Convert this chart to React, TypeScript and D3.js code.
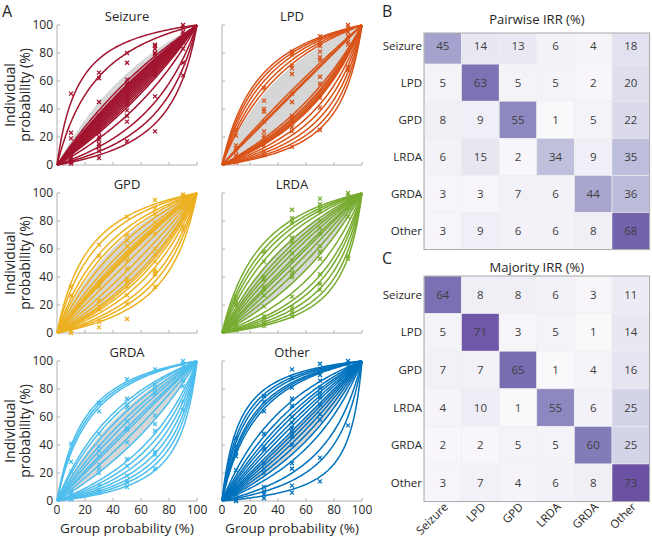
import React from "react";
import * as d3 from "d3";

// ---------- data ----------
const groupX = [10, 30, 50, 70, 90];
const panelNames = ["Seizure", "LPD", "GPD", "LRDA", "GRDA", "Other"];
const panelColors = ["#A2142F", "#D95319", "#EDB120", "#77AC30", "#4DBEEE", "#0072BD"];

// per-rater odds ratios of the fitted calibration curves
const seizureCurves = [7.3, 4.0, 1.5, 1.35, 1.3, 1.25, 1.2, 1.15, 1.1, 1.05, 1.0, 0.95, 0.9, 0.85, 0.8, 0.75, 0.7, 0.55, 0.35, 0.25, 0.18];
const lpdCurves = [4.5, 4.0, 3.5, 3.0, 2.6, 1.15, 1.05, 1.0, 0.55, 0.5, 0.47, 0.44, 0.42, 0.4, 0.33, 0.27, 0.22, 0.18, 0.15];
const gpdCurves = [5.0, 4.0, 3.0, 2.5, 2.0, 1.6, 1.4, 1.3, 1.25, 1.2, 1.0, 0.8, 0.65, 0.55, 0.5, 0.45, 0.38, 0.3, 0.25, 0.2];
const lrdaCurves = [4.2, 3.5, 3.0, 2.5, 2.0, 1.7, 1.5, 1.3, 1.1, 1.0, 0.85, 0.7, 0.55, 0.4, 0.3, 0.25, 0.2, 0.16, 0.13];
const grdaCurves = [5.8, 5.2, 4.7, 2.5, 2.2, 1.8, 1.5, 1.3, 1.1, 1.0, 0.8, 0.6, 0.4, 0.33, 0.27, 0.22, 0.18, 0.15, 0.12];
const otherCurves = [9, 7.5, 6.5, 5.5, 5, 4.5, 2.5, 2, 1.7, 1.5, 1.3, 1.15, 1.0, 0.9, 0.8, 0.7, 0.6, 0.5, 0.4, 0.25, 0.17, 0.09];

// gray band (odds-ratio range)
const seizureBand = [0.9, 1.9];
const lpdBand = [0.42, 2.4];
const gpdBand = [0.5, 2.3];
const lrdaBand = [0.55, 2.1];
const grdaBand = [0.6, 2.0];
const otherBand = [0.5, 1.0];

// individual probabilities (%) at each group probability in groupX
const seizureMarks = [
  [51, 23, 19, 12, 10, 8, 6, 5, 3, 2, 1],
  [66, 62, 45, 35, 32, 30, 27, 25, 23, 20, 18, 15, 13, 10, 5],
  [80, 73, 61, 58, 55, 52, 50, 48, 45, 43, 39, 35, 31, 17],
  [86, 85, 83, 80, 79, 76, 74, 71, 69, 67, 64, 49, 24],
  [100, 98, 95, 93, 90, 88, 83, 73, 64],
];
const lpdMarks = [
  [25, 21, 14, 12, 10, 7, 5, 2],
  [55, 46, 40, 38, 31, 24, 21, 19, 17, 14, 10, 7],
  [81, 79, 71, 69, 65, 51, 45, 35, 32, 27, 24, 13],
  [92, 89, 87, 85, 81, 77, 75, 63, 58, 50, 48, 41, 25],
  [100, 98, 95, 92, 88, 86, 70, 68],
];
const gpdMarks = [
  [33, 27, 5, 2, 0],
  [63, 55, 36, 33, 23, 19, 17, 8, 4],
  [83, 70, 66, 62, 57, 55, 52, 46, 39, 37, 33, 27, 21, 10],
  [95, 89, 85, 79, 76, 71, 60, 56, 51, 45, 43, 42, 33],
  [99, 98, 95, 93, 89, 85, 76, 74],
];
const lrdaMarks = [
  [26, 23, 20, 10, 7, 5, 2],
  [58, 51, 40, 38, 33, 31, 27, 19, 12, 10, 7, 5],
  [88, 82, 79, 68, 65, 57, 52, 46, 43, 40, 26, 18, 15, 12],
  [96, 92, 89, 87, 80, 75, 71, 62, 58, 53, 42, 35, 31],
  [100, 98, 95, 93, 89, 83, 55, 53],
];
const grdaMarks = [
  [41, 28, 21, 7, 5, 2, 1],
  [70, 64, 48, 39, 36, 32, 26, 23, 20, 11, 8, 6],
  [87, 73, 69, 67, 57, 52, 51, 42, 30, 25, 18, 14, 13, 10],
  [94, 83, 80, 77, 61, 55, 50, 35, 33, 23],
  [100, 98, 96, 93, 86, 82, 71, 65],
];
const otherMarks = [
  [45, 39, 35, 32, 22, 8, 5, 2, 1, 0],
  [75, 71, 64, 48, 39, 37, 27, 23, 20, 10, 7, 5, 2],
  [94, 88, 81, 73, 68, 60, 56, 52, 49, 46, 40, 27, 23, 11, 6],
  [98, 94, 90, 86, 81, 77, 74, 69, 62, 58, 31, 14],
  [100, 98, 96, 94, 54],
];

const panelCurves = [seizureCurves, lpdCurves, gpdCurves, lrdaCurves, grdaCurves, otherCurves];
const panelBands = [seizureBand, lpdBand, gpdBand, lrdaBand, grdaBand, otherBand];
const panelMarks = [seizureMarks, lpdMarks, gpdMarks, lrdaMarks, grdaMarks, otherMarks];

const probTicks = [0, 20, 40, 60, 80, 100];

const classLabels = ["Seizure", "LPD", "GPD", "LRDA", "GRDA", "Other"];
const pairwiseIRR = [
  [45, 14, 13, 6, 4, 18],
  [5, 63, 5, 5, 2, 20],
  [8, 9, 55, 1, 5, 22],
  [6, 15, 2, 34, 9, 35],
  [3, 3, 7, 6, 44, 36],
  [3, 9, 6, 6, 8, 68],
];
const majorityIRR = [
  [64, 8, 8, 6, 3, 11],
  [5, 71, 3, 5, 1, 14],
  [7, 7, 65, 1, 4, 16],
  [4, 10, 1, 55, 6, 25],
  [2, 2, 5, 5, 60, 25],
  [3, 7, 4, 6, 8, 73],
];

// ---------- layout ----------
const FONT = "'Open Sans', 'Noto Sans', sans-serif";
const W = 652;
const H = 538;
const colX = [57, 222];
const rowTop = [25, 193, 361];
const PW = 140;
const PH = 140;

const calib = (r: number) => (p: number) => (r * p) / (r * p + (1 - p));
const sampleP = d3.range(0, 1.0001, 0.01);

function Panel({ idx }: { idx: number }) {
  const c = idx % 2;
  const r = Math.floor(idx / 2);
  const x0 = colX[c];
  const y0 = rowTop[r];
  const xs = d3.scaleLinear().domain([0, 100]).range([x0, x0 + PW]);
  const ys = d3.scaleLinear().domain([0, 100]).range([y0 + PH, y0]);
  const color = panelColors[idx];
  const curve = (rr: number) =>
    d3
      .line<number>()
      .x((p) => xs(p * 100))
      .y((p) => ys(calib(rr)(p) * 100))(sampleP) || "";
  const [lo, hi] = panelBands[idx];
  const area = d3
    .area<number>()
    .x((p) => xs(p * 100))
    .y0((p) => ys(calib(lo)(p) * 100))
    .y1((p) => ys(calib(hi)(p) * 100));
  const ms = 2;
  return (
    <g>
      <text x={xs(50)} y={y0 - 4.5} textAnchor="middle" fontSize={13} fill="#262626">
        {panelNames[idx]}
      </text>
      {/* axes */}
      <line x1={x0} y1={y0} x2={x0} y2={y0 + PH} stroke="#b0b0b0" strokeWidth={1} />
      <line x1={x0} y1={y0 + PH} x2={x0 + PW} y2={y0 + PH} stroke="#b0b0b0" strokeWidth={1} />
      {probTicks.map((t) => (
        <g key={"t" + t}>
          <line x1={x0} x2={x0 + 3} y1={ys(t)} y2={ys(t)} stroke="#b0b0b0" />
          <line x1={xs(t)} x2={xs(t)} y1={y0 + PH} y2={y0 + PH - 3} stroke="#b0b0b0" />
          {c === 0 && (
            <text x={x0 - 4} y={ys(t) + 4.3} textAnchor="end" fontSize={12} fill="#262626">
              {t}
            </text>
          )}
          {r === 2 && (
            <text x={xs(t)} y={y0 + PH + 13} textAnchor="middle" fontSize={12} fill="#262626">
              {t}
            </text>
          )}
        </g>
      ))}
      <path d={area(sampleP) || ""} fill="#d6d6d6" />
      {panelCurves[idx].map((rr, i) => (
        <path key={"c" + i} d={curve(rr)} fill="none" stroke={color} strokeWidth={1.5} />
      ))}
      {panelMarks[idx].map((col, j) =>
        col.map((v, k) => {
          const cx = xs(groupX[j]);
          const cy = ys(v);
          return (
            <path
              key={"m" + j + "-" + k}
              d={`M${cx - ms},${cy - ms}L${cx + ms},${cy + ms}M${cx - ms},${cy + ms}L${cx + ms},${cy - ms}`}
              stroke={color}
              strokeWidth={1.3}
              fill="none"
            />
          );
        })
      )}
      {r === 2 && (
        <text x={xs(50)} y={533} textAnchor="middle" fontSize={13.5} fill="#262626">
          Group probability (%)
        </text>
      )}
      {c === 0 && (
        <g transform={`translate(0,${ys(50)}) rotate(-90)`}>
          <text x={0} y={15} textAnchor="middle" fontSize={14} fill="#262626">
            Individual
          </text>
          <text x={0} y={30} textAnchor="middle" fontSize={14} fill="#262626">
            probability (%)
          </text>
        </g>
      )}
    </g>
  );
}

const matX0 = 424;
const cellW = 37.6;

function Matrix({
  data,
  top,
  rowH,
  clipTop,
  title,
  titleY,
  showCols,
  id,
}: {
  data: number[][];
  top: number;
  rowH: number;
  clipTop: number;
  title: string;
  titleY: number;
  showCols: boolean;
  id: string;
}) {
  const xs = d3.scaleBand<string>().domain(classLabels).range([matX0, matX0 + cellW * 6]);
  const ys = d3.scaleBand<string>().domain(classLabels).range([top, top + rowH * 6]);
  const color = (v: number) => d3.interpolatePurples(Math.min(1, v / 100 + 0.02));
  const bottom = top + rowH * 6;
  return (
    <g>
      <text x={matX0 + cellW * 3} y={titleY} textAnchor="middle" fontSize={13} fill="#262626">
        {title}
      </text>
      <defs>
        <clipPath id={id}>
          <rect x={matX0} y={clipTop} width={cellW * 6} height={bottom - clipTop} />
        </clipPath>
      </defs>
      <g clipPath={`url(#${id})`}>
        {data.map((row, i) =>
          row.map((v, j) => (
            <g key={i + "-" + j}>
              <rect
                x={xs(classLabels[j])}
                y={ys(classLabels[i])}
                width={xs.bandwidth()}
                height={ys.bandwidth()}
                fill={color(v)}
                stroke="#ededed"
                strokeWidth={0.6}
              />
              <text
                x={(xs(classLabels[j]) || 0) + xs.bandwidth() / 2}
                y={(ys(classLabels[i]) || 0) + ys.bandwidth() / 2 + 4}
                textAnchor="middle"
                fontSize={11.5}
                fill="#404040"
              >
                {v}
              </text>
            </g>
          ))
        )}
      </g>
      <rect x={matX0} y={clipTop} width={cellW * 6} height={bottom - clipTop} fill="none" stroke="#a8a8a8" strokeWidth={1} />
      {classLabels.map((l) => (
        <text
          key={"r" + l}
          x={matX0 - 2}
          y={(ys(l) || 0) + ys.bandwidth() / 2 + 4}
          textAnchor="end"
          fontSize={11.5}
          fill="#262626"
        >
          {l}
        </text>
      ))}
      {showCols &&
        classLabels.map((l) => {
          const cx = (xs(l) || 0) + xs.bandwidth() / 2 + 6;
          const cy = bottom + 6;
          return (
            <text
              key={"c" + l}
              transform={`translate(${cx},${cy}) rotate(-45)`}
              textAnchor="end"
              fontSize={11.5}
              fill="#262626"
            >
              {l}
            </text>
          );
        })}
    </g>
  );
}

export default function App() {
  return (
    <svg width={W} height={H} style={{ display: "block", position: "absolute", left: 0, top: 0, fontFamily: FONT }}>
      <rect x={0} y={0} width={W} height={H} fill="#ffffff" />
      <text x={2} y={17} fontSize={16} fill="#262626">A</text>
      <text x={382} y={17} fontSize={16} fill="#262626">B</text>
      <text x={382} y={264} fontSize={16} fill="#262626">C</text>
      {[0, 1, 2, 3, 4, 5].map((i) => (
        <Panel key={i} idx={i} />
      ))}
      <Matrix data={pairwiseIRR} top={27} rowH={37.1} clipTop={33} title="Pairwise IRR (%)" titleY={24} showCols={false} id="clipB" />
      <Matrix data={majorityIRR} top={276} rowH={37.6} clipTop={276} title="Majority IRR (%)" titleY={272} showCols={true} id="clipC" />
    </svg>
  );
}
